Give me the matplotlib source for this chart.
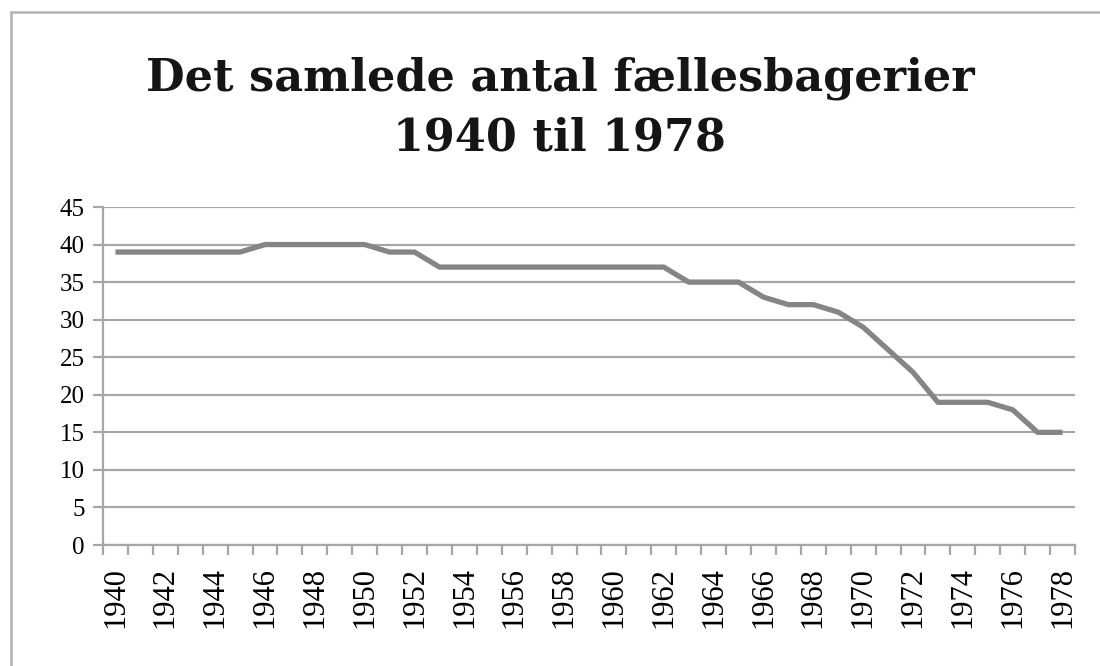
import numpy as np
import matplotlib
matplotlib.use('Agg')
from matplotlib import pyplot as plt
from matplotlib.lines import Line2D

years = list(range(1940, 1979))
antal = [39, 39, 39, 39, 39, 39, 40, 40, 40, 40, 40, 39, 39,
         37, 37, 37, 37, 37, 37, 37, 37, 37, 37, 35, 35, 35,
         33, 32, 32, 31, 29, 26, 23, 19, 19, 19, 18, 15, 15]
yticks = list(range(0, 50, 5))
title = 'Det samlede antal fællesbagerier\n1940 til 1978'

plt.rcParams['font.family'] = ['Liberation Serif', 'DejaVu Serif']

fig = plt.figure(figsize=(11, 6.66), dpi=100)
ax = fig.add_axes([103/1100, 1-545/666, (1075-103)/1100, (545-207)/666])

x = np.arange(len(years))
ax.plot(x, antal, color='#858585', lw=3.8, solid_capstyle='butt', zorder=3)

grid_c = '#a6a6a6'
for v in yticks:
    ax.axhline(v, color=grid_c, lw=1.6, zorder=1)

ax.set_xlim(-0.5, len(years) - 0.5)
ax.set_ylim(0, 45)
ax.set_yticks(yticks)
ax.set_yticklabels([str(v) for v in yticks], fontsize=18)

ax.set_xticks(x[::2])
ax.set_xticklabels([str(y) for y in years[::2]], rotation=90, fontsize=22)
ax.set_xticks(np.arange(-0.5, len(years)), minor=True)
ax.tick_params(axis='x', which='major', length=0, pad=16)
ax.tick_params(axis='x', which='minor', length=7, width=1.6, color=grid_c)
ax.tick_params(axis='y', length=7, width=1.6, color=grid_c, pad=6)

for s in ['top', 'right']:
    ax.spines[s].set_visible(False)
for s in ['left', 'bottom']:
    ax.spines[s].set_color(grid_c)
    ax.spines[s].set_linewidth(1.6)

# outer frame (only top and left are visible in the picture)
fig.add_artist(Line2D([11/1100, 11/1100], [0, 1-12/666], color='#b3b3b3', lw=1.8))
fig.add_artist(Line2D([11/1100, 1], [1-12/666, 1-12/666], color='#b3b3b3', lw=1.8))

fig.text(0.509, 1-108/666, title, ha='center', va='center', fontsize=32,
         fontweight='bold', color='#151515', linespacing=1.48,
         family=['DejaVu Serif'])

fig.savefig('out.png', dpi=100)
